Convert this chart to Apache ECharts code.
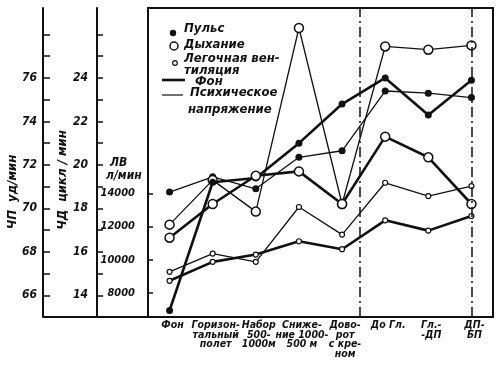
<!DOCTYPE html>
<html><head><meta charset="utf-8">
<script src="https://cdn.jsdelivr.net/npm/echarts@6/dist/echarts.min.js"></script>
<style>html,body{margin:0;padding:0;background:#fff}#c{width:500px;height:366px}</style>
</head><body><div id="c"></div><script>
const categories = ['Фон', 'Горизон-\nтальный\nполет', 'Набор\n500-\n1000м', 'Сниже-\nние 1000-\n500 м', 'Дово-\nрот\nс кре-\nном', 'До Гл.', 'Гл.-\n-ДП', 'ДП-\nБП'];
const pulseBackground = [65.3, 71.2, 71.4, 73.0, 74.8, 76.0, 74.3, 75.9];
const pulseStress = [70.75, 71.45, 70.9, 72.35, 72.65, 75.4, 75.3, 75.1];
const breathBackground = [16.65, 18.2, 19.5, 19.7, 18.2, 21.3, 20.35, 18.2];
const breathStress = [17.25, 19.3, 17.85, 26.3, 18.2, 25.45, 25.3, 25.5];
const ventBackground = [8740, 9880, 10320, 11120, 10640, 12380, 11760, 12640];
const ventStress = [9280, 10380, 9880, 13180, 11520, 14640, 13840, 14440];
const pulseTicks = [66, 67, 68, 69, 70, 71, 72, 73, 74, 75, 76, 77, 78];
const pulseLabels = [66, 68, 70, 72, 74, 76];
const breathTicks = [14, 15, 16, 17, 18, 19, 20, 21, 22, 23, 24, 25, 26];
const breathLabels = [14, 16, 18, 20, 22, 24];
const ventTicks = [8000, 10000, 12000, 14000];
const phaseMarks = [4.4, 7];

const FONT = '"Liberation Sans Narrow", "DejaVu Sans Condensed", sans-serif';
const lbl = {fontFamily: FONT, fontStyle: 'italic', fontWeight: 'bold', fontSize: 12, color: '#111'};
const chart = echarts.init(document.getElementById('c'), null, {renderer: 'canvas'});

function yAx(min, max, offset, ticks, labels, showLine, tickLen, margin, fs) {
  return {
    type: 'value', position: 'left', offset: offset, min: min, max: max,
    axisLine: {show: showLine, onZero: false, lineStyle: {color: '#111', width: 2}},
    axisTick: {show: true, inside: true, length: tickLen, customValues: ticks, lineStyle: {color: '#111', width: 1.5}},
    axisLabel: Object.assign({customValues: labels, margin: margin, formatter: v => String(v)}, lbl, {fontSize: fs}),
    splitLine: {show: false}
  };
}

function mk(name, data, yi, thick, kind) {
  let sym = {symbol: 'circle', symbolSize: 7, itemStyle: {color: '#111'}};
  if (kind === 'open') sym = {symbol: 'circle', symbolSize: 9, itemStyle: {color: '#fff', borderColor: '#111', borderWidth: 1.5}};
  if (kind === 'small') sym = {symbol: 'circle', symbolSize: 5, itemStyle: {color: '#fff', borderColor: '#111', borderWidth: 1.2}};
  return Object.assign({
    name: name, type: 'line', yAxisIndex: yi, data: data, showAllSymbol: true,
    lineStyle: {color: '#111', width: thick ? 2.6 : 1.3}, z: thick ? 3 : 2
  }, sym);
}

const legendText = (x, y, t) => ({type: 'text', x: x, y: y, style: {text: t, fill: '#111', font: 'italic bold 13px ' + FONT, textAlign: 'left', textVerticalAlign: 'middle'}, z: 10});

chart.setOption({
  animation: false,
  backgroundColor: '#fff',
  grid: {left: 148, right: 7, top: 8, bottom: 49, show: true, borderColor: '#111', borderWidth: 2, backgroundColor: 'transparent'},
  xAxis: [{
    type: 'category', data: categories, boundaryGap: true,
    axisLine: {onZero: false, lineStyle: {color: '#111', width: 2}},
    axisTick: {alignWithLabel: true, inside: true, length: 5, lineStyle: {color: '#111', width: 1.2}},
    axisLabel: Object.assign({interval: 0, margin: 4, lineHeight: 9.5, padding: [0, 0, 0, 6]}, lbl, {fontSize: 10.5}),
    splitLine: {show: false}
  }, {
    type: 'value', min: -0.5, max: 7.5, show: false, axisLine: {onZero: false}
  }],
  yAxis: [
    yAx(65, 79.22, 105, pulseTicks, pulseLabels, true, 7, 6, 12),
    yAx(13, 27.22, 51, breathTicks, breathLabels, true, 6, 9, 12),
    yAx(6560, 25160, 0, ventTicks, ventTicks, false, 5, 13, 11)
  ],
  series: [
    mk('Пульс фон', pulseBackground, 0, true, 'filled'),
    mk('Пульс напр', pulseStress, 0, false, 'filled'),
    mk('Дыхание фон', breathBackground, 1, true, 'open'),
    mk('Дыхание напр', breathStress, 1, false, 'open'),
    mk('ЛВ фон', ventBackground, 2, true, 'small'),
    mk('ЛВ напр', ventStress, 2, false, 'small'),
    {
      type: 'line', xAxisIndex: 1, yAxisIndex: 0, data: [], silent: true,
      markLine: {
        silent: true, symbol: 'none', label: {show: false},
        lineStyle: {color: '#111', width: 1.5, type: [10, 4, 2, 4]},
        data: phaseMarks.map(v => ({xAxis: v}))
      }
    }
  ],
  graphic: [
    {type: 'line', shape: {x1: 43, y1: 317, x2: 148, y2: 317}, style: {stroke: '#111', lineWidth: 2}},
    {type: 'text', x: 13, y: 192, rotation: Math.PI / 2, style: {text: 'ЧП  уд/мин', fill: '#111', font: 'italic bold 13px ' + FONT, textAlign: 'center', textVerticalAlign: 'middle'}},
    {type: 'text', x: 63, y: 180, rotation: Math.PI / 2, style: {text: 'ЧД  цикл / мин', fill: '#111', font: 'italic bold 13px ' + FONT, textAlign: 'center', textVerticalAlign: 'middle'}},
    {type: 'text', x: 110, y: 163, style: {text: 'ЛВ', fill: '#111', font: 'italic bold 12px ' + FONT, textAlign: 'left', textVerticalAlign: 'middle'}},
    {type: 'text', x: 106, y: 176, style: {text: 'л/мин', fill: '#111', font: 'italic bold 12px ' + FONT, textAlign: 'left', textVerticalAlign: 'middle'}},
    {type: 'circle', shape: {cx: 173, cy: 33, r: 3.2}, style: {fill: '#111'}, z: 10},
    legendText(184, 29, 'Пульс'),
    {type: 'circle', shape: {cx: 174, cy: 46, r: 4}, style: {fill: '#fff', stroke: '#111', lineWidth: 1.5}, z: 10},
    legendText(184, 45, 'Дыхание'),
    {type: 'circle', shape: {cx: 175, cy: 63, r: 2.3}, style: {fill: '#fff', stroke: '#111', lineWidth: 1.2}, z: 10},
    legendText(184, 59, 'Легочная вен-'),
    legendText(184, 71, 'тиляция'),
    {type: 'line', shape: {x1: 162, y1: 80, x2: 185, y2: 80}, style: {stroke: '#111', lineWidth: 2.6}, z: 10},
    legendText(195, 82, 'Фон'),
    {type: 'line', shape: {x1: 162, y1: 95, x2: 183, y2: 95}, style: {stroke: '#111', lineWidth: 1.2}, z: 10},
    legendText(190, 93, 'Психическое'),
    legendText(188, 110, 'напряжение')
  ]
});
</script></body></html>
